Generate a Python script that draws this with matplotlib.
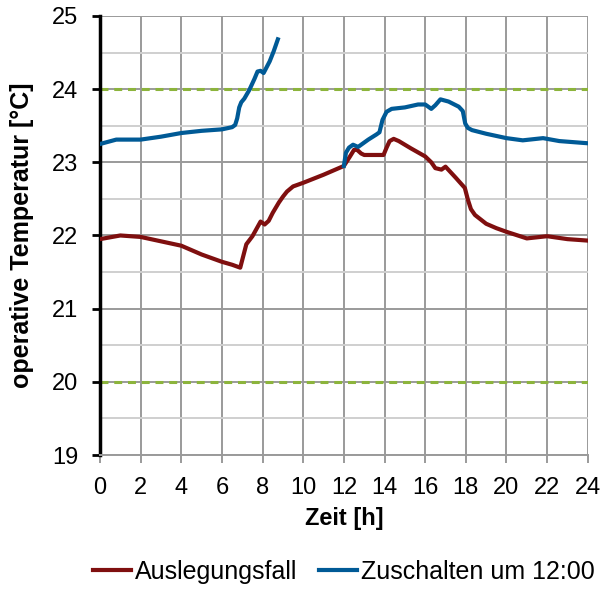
import numpy as np
import matplotlib
matplotlib.use("Agg")
import matplotlib.pyplot as plt

plt.rcParams['font.family'] = ['Liberation Sans', 'DejaVu Sans']

# Auslegungsfall
t_ausl = [0, 1.0, 2, 3, 4, 5, 6, 6.5, 6.9, 7.05, 7.2, 7.5, 7.9, 8.1, 8.3, 8.5, 8.8, 9.0, 9.2,
          9.5, 9.8, 10, 11, 12, 12.3, 12.5, 12.65, 12.85, 13.0, 13.95, 14.1, 14.25, 14.45,
          14.7, 15.3, 16.0, 16.3, 16.5, 16.8, 17.0, 17.5, 17.95, 18.1, 18.25, 18.45, 19,
          19.5, 20, 21, 22, 23, 24]
T_ausl = [21.95, 22.0, 21.98, 21.92, 21.86, 21.74, 21.64, 21.6, 21.56, 21.72, 21.88, 21.99,
          22.19, 22.15, 22.2, 22.31, 22.45, 22.53, 22.6,
          22.67, 22.7, 22.72, 22.83, 22.95, 23.08, 23.17, 23.17, 23.12, 23.1, 23.1, 23.2,
          23.29, 23.32, 23.29, 23.19, 23.08, 23.0, 22.92, 22.9, 22.94, 22.79, 22.65, 22.49,
          22.36, 22.28, 22.16, 22.1, 22.05, 21.96, 21.99, 21.95, 21.93]

# Zuschalten um 12:00 (no values between 8.75 h and 12 h)
t_zu = [0, 0.8, 2, 3, 4, 5, 6, 6.5, 6.65, 6.75, 6.85, 6.95, 7.1, 7.35, 7.6, 7.75, 7.9, 8.05,
        8.35, 8.55, 8.75,
        np.nan,
        12, 12.1, 12.25, 12.45, 12.7, 13.2, 13.6, 13.75, 13.9, 14.1, 14.35, 15.0, 15.65,
        16.0, 16.3, 16.5, 16.75, 17.15, 17.65, 17.85, 17.97, 18.1, 18.3, 19, 20, 20.8, 21.8,
        22.6, 24]
T_zu = [23.25, 23.31, 23.31, 23.35, 23.4, 23.43, 23.45, 23.48, 23.51, 23.6, 23.75, 23.82,
        23.87, 23.99, 24.14, 24.24, 24.25, 24.22, 24.38, 24.52, 24.68,
        np.nan,
        22.95, 23.13, 23.2, 23.24, 23.21, 23.31, 23.38, 23.41, 23.58, 23.69, 23.73, 23.75,
        23.79, 23.79, 23.73, 23.78, 23.86, 23.83, 23.76, 23.7, 23.53, 23.47, 23.44, 23.39,
        23.33, 23.3, 23.33, 23.29, 23.26]

limits = [20, 24]
x_ticks = list(range(0, 25, 2))
y_ticks = list(range(19, 26))

fig = plt.figure(figsize=(6.01, 5.90), dpi=100)
ax = fig.add_axes([0.1664, 0.2288, 0.8116, 0.7442])

ax.set_xlim(0, 24)
ax.set_ylim(19, 25)
ax.set_xticks(x_ticks)
ax.set_yticks(y_ticks)
ax.set_yticks(np.arange(19.5, 25, 1.0), minor=True)

ax.grid(which='major', color='#9a9a9a', linewidth=1.4)
ax.grid(which='minor', axis='y', color='#cfcfcf', linewidth=1.4)
ax.set_axisbelow(True)

for y in limits:
    ax.axhline(y, color='#8cb43c', linestyle=(0, (2.6, 1.9)), linewidth=2.2, zorder=2)

ax.plot(t_ausl, T_ausl, color='#7f0f0f', linewidth=3.0, label='Auslegungsfall',
        zorder=3, solid_joinstyle='round')
ax.plot(t_zu, T_zu, color='#005a96', linewidth=3.0, label='Zuschalten um 12:00',
        zorder=3, solid_joinstyle='round')

for side in ['top', 'right']:
    ax.spines[side].set_visible(False)
ax.spines['left'].set_color('black')
ax.spines['left'].set_linewidth(2.5)
ax.spines['bottom'].set_color('#9a9a9a')
ax.spines['bottom'].set_linewidth(1.4)

ax.tick_params(axis='both', which='major', labelsize=17, length=5.5, width=1.4,
               color='#9a9a9a')
ax.tick_params(axis='x', which='major', pad=10)
ax.tick_params(axis='y', which='major', color='black', width=2.0, pad=10)
ax.tick_params(axis='y', which='minor', length=0)

ax.set_xlabel('Zeit [h]', fontsize=17, fontweight='bold', labelpad=6)
ax.set_ylabel('operative Temperatur [°C]', fontsize=18, fontweight='bold', labelpad=13)

fig.legend(loc='lower center', bbox_to_anchor=(0.572, -0.028), ncol=2, frameon=False,
           fontsize=18, handlelength=1.5, handletextpad=0.15, columnspacing=0.9)

fig.savefig('out.png', dpi=100)
